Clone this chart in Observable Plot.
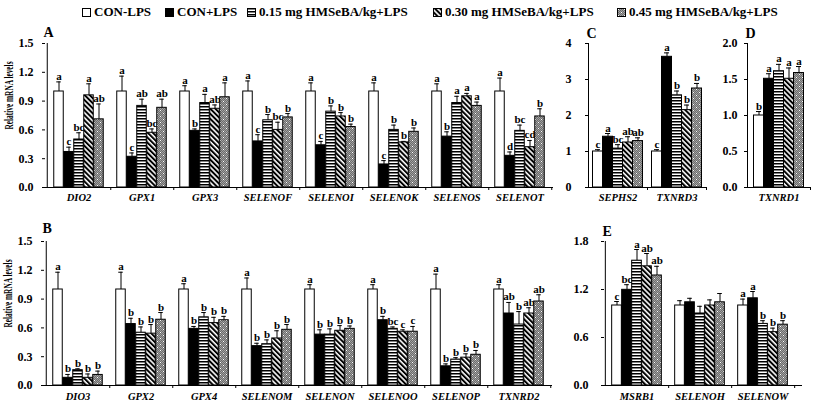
<!DOCTYPE html>
<html><head><meta charset="utf-8">
<script src="https://cdn.jsdelivr.net/npm/d3@7"></script>
<script src="https://cdn.jsdelivr.net/npm/@observablehq/plot@0.6"></script>
<style>
body{margin:0;background:#fff;}
#chart{position:relative;width:813px;height:404px;overflow:hidden;font-family:'Liberation Serif','Times New Roman',serif;color:#000;}
.panel{position:absolute;}
.panel svg{overflow:visible;}
[aria-label^="x-axis"] text{font-style:italic;font-size:10.5px;}
#legend{position:absolute;left:0;top:0;width:813px;height:24px;font-weight:bold;font-size:13px;z-index:5;}
.li{position:absolute;top:4px;white-space:nowrap;display:flex;align-items:center;line-height:16px;}
.li svg{margin-right:3px;}
</style></head><body>
<svg width="0" height="0" style="position:absolute"><defs>
<pattern id="pHoriz" patternUnits="userSpaceOnUse" width="4" height="3"><rect width="4" height="3" fill="#fff"/><rect width="4" height="1.5" fill="#000"/></pattern>
<pattern id="pDiag" patternUnits="userSpaceOnUse" width="3.6" height="4" patternTransform="rotate(-45)"><rect width="3.6" height="4" fill="#fff"/><rect width="2" height="4" fill="#000"/></pattern>
<pattern id="pChk" patternUnits="userSpaceOnUse" width="2" height="2"><rect width="2" height="2" fill="#6c6c6c"/><rect width="1" height="1" fill="#a0a0a0"/><rect x="1" y="1" width="1" height="1" fill="#a0a0a0"/></pattern>
<pattern id="pDot" patternUnits="userSpaceOnUse" width="6" height="6"><rect width="6" height="6" fill="url(#pChk)"/><rect x="1" y="1" width="1" height="1" fill="#fff"/><rect x="4" y="4" width="1" height="1" fill="#fff"/></pattern>
</defs></svg>
<div id="chart"><div id="legend"></div></div>
<script>
// ---------- data ----------
const series = ["CON-LPS", "CON+LPS", "0.15 mg HMSeBA/kg+LPS", "0.30 mg HMSeBA/kg+LPS", "0.45 mg HMSeBA/kg+LPS"];
const seriesFill = ["white", "black", "url(#pHoriz)", "url(#pDiag)", "url(#pDot)"];
const yLabel = "Relative mRNA levels";

// Panel A
const genesA = ["DIO2", "GPX1", "GPX3", "SELENOF", "SELENOI", "SELENOK", "SELENOS", "SELENOT"];
const meanA = [
  [1.00, 0.37, 0.50, 0.96, 0.71],
  [1.00, 0.32, 0.85, 0.57, 0.83],
  [1.00, 0.59, 0.88, 0.82, 0.94],
  [1.00, 0.48, 0.70, 0.60, 0.73],
  [1.00, 0.44, 0.79, 0.74, 0.63],
  [1.00, 0.24, 0.60, 0.47, 0.58],
  [1.00, 0.53, 0.88, 0.95, 0.85],
  [1.00, 0.33, 0.59, 0.42, 0.74]
];
const seA = [
  [0.10, 0.05, 0.07, 0.12, 0.16],
  [0.16, 0.04, 0.07, 0.04, 0.09],
  [0.06, 0.02, 0.09, 0.04, 0.15],
  [0.11, 0.07, 0.06, 0.08, 0.04],
  [0.09, 0.04, 0.06, 0.04, 0.03],
  [0.09, 0.04, 0.05, 0.01, 0.04],
  [0.08, 0.05, 0.07, 0.03, 0.04],
  [0.14, 0.04, 0.06, 0.07, 0.08]
];
const sigA = [
  ["a", "c", "bc", "a", "ab"],
  ["a", "c", "ab", "bc", "ab"],
  ["a", "b", "a", "ab", "a"],
  ["a", "c", "b", "bc", "b"],
  ["a", "c", "b", "b", "b"],
  ["a", "c", "b", "b", "b"],
  ["a", "b", "a", "a", "a"],
  ["a", "d", "bc", "cd", "b"]
];

// Panel B
const genesB = ["DIO3", "GPX2", "GPX4", "SELENOM", "SELENON", "SELENOO", "SELENOP", "TXNRD2"];
const meanB = [
  [1.00, 0.08, 0.16, 0.08, 0.11],
  [1.00, 0.64, 0.55, 0.54, 0.685],
  [1.00, 0.59, 0.71, 0.65, 0.68],
  [1.00, 0.41, 0.43, 0.49, 0.58],
  [1.00, 0.53, 0.53, 0.57, 0.59],
  [1.00, 0.68, 0.59, 0.56, 0.56],
  [1.00, 0.20, 0.27, 0.29, 0.32],
  [1.00, 0.75, 0.635, 0.75, 0.875]
];
const seB = [
  [0.18, 0.035, 0.014, 0.04, 0.04],
  [0.18, 0.06, 0.06, 0.095, 0.075],
  [0.06, 0.025, 0.05, 0.06, 0.04],
  [0.12, 0.03, 0.045, 0.08, 0.055],
  [0.05, 0.05, 0.06, 0.054, 0.03],
  [0.05, 0.04, 0.02, 0.02, 0.055],
  [0.16, 0.025, 0.02, 0.04, 0.045],
  [0.05, 0.115, 0.135, 0.06, 0.07]
];
const sigB = [
  ["a", "b", "b", "b", "b"],
  ["a", "b", "b", "b", "b"],
  ["a", "b", "b", "b", "b"],
  ["a", "b", "b", "b", "b"],
  ["a", "b", "b", "b", "b"],
  ["a", "b", "bc", "c", "c"],
  ["a", "b", "b", "b", "b"],
  ["a", "ab", "b", "ab", "ab"]
];

// Panel C
const genesC = ["SEPHS2", "TXNRD3"];
const meanC = [
  [1.00, 1.41, 1.08, 1.25, 1.29],
  [1.00, 3.63, 2.56, 2.15, 2.75]
];
const seC = [
  [0.05, 0.09, 0.11, 0.16, 0.09],
  [0.05, 0.11, 0.12, 0.14, 0.14]
];
const sigC = [
  ["c", "a", "bc", "ab", "ab"],
  ["c", "a", "b", "b", "b"]
];

// Panel D
const genesD = ["TXNRD1"];
const meanD = [[1.00, 1.51, 1.615, 1.51, 1.59]];
const seD = [[0.055, 0.07, 0.095, 0.15, 0.09]];
const sigD = [["b", "a", "a", "a", "a"]];

// Panel E
const genesE = ["MSRB1", "SELENOH", "SELENOW"];
const meanE = [
  [1.00, 1.196, 1.56, 1.49, 1.375],
  [1.00, 1.04, 0.90, 1.00, 1.04],
  [1.00, 1.09, 0.77, 0.667, 0.76]
];
const seE = [
  [0.05, 0.064, 0.14, 0.16, 0.115],
  [0.06, 0.05, 0.09, 0.07, 0.11],
  [0.08, 0.085, 0.04, 0.05, 0.05]
];
const sigE = [
  ["c", "bc", "a", "ab", "ab"],
  ["", "", "", "", ""],
  ["a", "a", "b", "b", "b"]
];

// ---------- drawing ----------
function toRows(genes, mean, se, sig) {
  return genes.flatMap((g, i) => mean[i].map((m, j) => ({gene: g, s: j, mean: m, top: m + se[i][j], letter: sig[i][j]})));
}

const fontFamily = "'Liberation Serif','Times New Roman',serif";

function panel(o) {
  const rows = toRows(o.genes, o.mean, o.se, o.sig);
  const fw = o.width - o.ml - o.mr, fh = o.height - o.mt - o.mb;
  const band = fw / o.genes.length;
  const pad = (band - 5 * o.barW) / 2;
  const marks = [];
  marks.push(Plot.ruleY([0], {stroke: "black", insetRight: o.ext || 0}));
  marks.push(Plot.ruleX([o.genes[0]], {x: d => d, y1: 0, y2: o.yDomain[1], dx: -band / 2, stroke: "black"}));
  marks.push(Plot.ruleX(o.genes, {x: d => d, dx: band / 2, insetTop: fh, insetBottom: -3, stroke: "black"}));
  for (let j = 0; j < 5; j++) {
    const d = rows.filter(r => r.s === j);
    const L = pad + j * o.barW, R = band - L - o.barW, c = L + o.barW / 2 - band / 2;
    marks.push(Plot.ruleX(d, {x: "gene", y1: "mean", y2: "top", dx: c, stroke: "black"}));
    marks.push(Plot.tickY(d, {x: "gene", y: "top", insetLeft: L + o.barW / 2 - 2.5, insetRight: R + o.barW / 2 - 2.5, stroke: "black"}));
    marks.push(Plot.barY(d, {x: "gene", y: "mean", fill: seriesFill[j], stroke: "black", strokeWidth: 1, insetLeft: L, insetRight: R}));
    marks.push(Plot.text(d, {x: "gene", y: "top", text: "letter", dx: c, dy: -2, lineAnchor: "bottom", fontSize: 11, fontWeight: "bold"}));
  }
  marks.push(Plot.text([o.tag], {text: d => d, frameAnchor: "top-left", dx: -2, dy: o.tagDy, textAnchor: "start", lineAnchor: "middle", fontSize: 14, fontWeight: "bold"}));
  if (o.ylab) {
    marks.push(Plot.text([yLabel], {text: d => d, frameAnchor: "left", rotate: -90, dx: -37, dy: -20, textAnchor: "middle", lineAnchor: "middle", fontSize: 12.5, fontWeight: "bold"}));
  }
  const svg = Plot.plot({
    width: o.width, height: o.height,
    marginLeft: o.ml, marginRight: o.mr, marginTop: o.mt, marginBottom: o.mb,
    x: {domain: o.genes, padding: 0, tickSize: 0, tickPadding: o.xPad, label: null},
    y: {domain: o.yDomain, ticks: o.yTicks, tickFormat: o.fmt, tickSize: 3, tickPadding: o.yPad, label: null},
    style: {fontFamily, fontSize: "12px", fontWeight: "bold", background: "none", color: "black", overflow: "visible"},
    marks
  });
  svg.querySelectorAll("text").forEach(t => {
    if (t.textContent === yLabel) { t.setAttribute("textLength", 68); t.setAttribute("lengthAdjust", "spacingAndGlyphs"); }
  });
  const div = document.createElement("div");
  div.className = "panel";
  div.style.left = o.left + "px";
  div.style.top = o.top + "px";
  div.appendChild(svg);
  document.getElementById("chart").appendChild(div);
}

const f1 = d3.format(".1f");
panel({tag: "A", genes: genesA, mean: meanA, se: seA, sig: sigA, left: 0, top: 22, width: 560, height: 183, ml: 45, mr: 7, mt: 21, mb: 18,
  barW: 10, yDomain: [0, 1.5], yTicks: [0, 0.3, 0.6, 0.9, 1.2, 1.5], fmt: f1, yPad: 9, xPad: 6, tagDy: -11, ylab: true});
panel({tag: "B", genes: genesB, mean: meanB, se: seB, sig: sigB, left: 0, top: 214, width: 560, height: 190, ml: 44, mr: 8, mt: 27, mb: 19,
  barW: 10, yDomain: [0, 1.5], yTicks: [0, 0.3, 0.6, 0.9, 1.2, 1.5], fmt: f1, yPad: 9, xPad: 7, tagDy: -13, ylab: true});
panel({tag: "C", genes: genesC, mean: meanC, se: seC, sig: sigC, left: 545, top: 22, width: 165, height: 183, ml: 43, mr: 4, mt: 21, mb: 18,
  barW: 10, yDomain: [0, 4], yTicks: [0, 1, 2, 3, 4], fmt: d3.format("d"), yPad: 14, xPad: 6, tagDy: -10, ylab: false});
panel({tag: "D", genes: genesD, mean: meanD, se: seD, sig: sigD, left: 705, top: 22, width: 108, height: 183, ml: 42, mr: 3, mt: 21, mb: 18,
  barW: 10, yDomain: [0, 2], yTicks: [0, 0.5, 1, 1.5, 2], fmt: f1, yPad: 7, xPad: 6, tagDy: -10, ylab: false});
panel({tag: "E", genes: genesE, mean: meanE, se: seE, sig: sigE, left: 560, top: 214, width: 253, height: 190, ml: 44, mr: 19, mt: 27, mb: 19,
  barW: 10, yDomain: [0, 1.8], yTicks: [0, 0.6, 1.2, 1.8], fmt: f1, yPad: 13, xPad: 7, tagDy: -10, ylab: false, ext: -8});

// legend
const legendLeft = [82, 165, 247, 433, 617];
const legend = document.getElementById("legend");
series.forEach((name, i) => {
  const item = document.createElement("div");
  item.className = "li";
  item.style.left = legendLeft[i] + "px";
  item.innerHTML = `<svg width="9" height="9"><rect x="0.5" y="0.5" width="8" height="8" fill="${seriesFill[i]}" stroke="black"/></svg><span>${name}</span>`;
  legend.appendChild(item);
});
</script>
</body></html>
